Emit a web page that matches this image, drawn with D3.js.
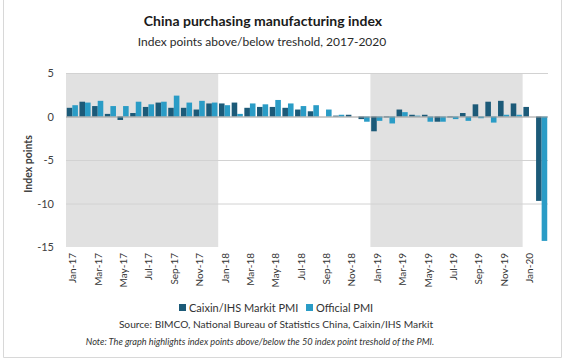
<!DOCTYPE html>
<html><head><meta charset="utf-8">
<script src="https://cdn.jsdelivr.net/npm/d3@7"></script>
<style>body{margin:0;background:#fff}svg{display:block}text{font-family:Lato,"Open Sans",sans-serif}</style>
</head><body><svg id="c" width="565" height="359"></svg>
<script>
const months = ["Jan-17","Feb-17","Mar-17","Apr-17","May-17","Jun-17","Jul-17","Aug-17","Sep-17","Oct-17","Nov-17","Dec-17",
"Jan-18","Feb-18","Mar-18","Apr-18","May-18","Jun-18","Jul-18","Aug-18","Sep-18","Oct-18","Nov-18","Dec-18",
"Jan-19","Feb-19","Mar-19","Apr-19","May-19","Jun-19","Jul-19","Aug-19","Sep-19","Oct-19","Nov-19","Dec-19",
"Jan-20","Feb-20"];
const caixin = [1.0,1.7,1.2,0.3,-0.4,0.4,1.1,1.6,1.0,1.0,0.8,1.5,
1.5,1.6,1.0,1.1,1.1,1.0,0.8,0.6,0.0,0.1,0.2,-0.3,
-1.7,-0.1,0.8,0.2,0.2,-0.6,-0.1,0.4,1.4,1.7,1.8,1.5,
1.1,-9.7];
const official = [1.3,1.6,1.8,1.2,1.2,1.7,1.4,1.7,2.4,1.6,1.8,1.6,
1.3,0.3,1.5,1.4,1.9,1.5,1.2,1.3,0.8,0.2,0.0,-0.6,
-0.5,-0.8,0.5,0.1,-0.6,-0.6,-0.3,-0.5,-0.2,-0.7,0.2,0.2,
0.0,-14.3];
const yTicks = [5,0,-5,-10,-15];
const shaded = [["Jan-17","Dec-17"],["Jan-19","Dec-19"]];
const seriesNames = ["Caixin/IHS Markit PMI","Official PMI"];
const colors = ["#1c5a78","#2a9cc6"];

const svg = d3.select("#c");
const L=66,R=548,T=73,B=247;
const x = d3.scaleBand().domain(months).range([L,R]).paddingInner(0.12).paddingOuter(0.06);
const y = d3.scaleLinear().domain([-15,5]).range([B,T]);
const sub = d3.scaleBand().domain([0,1]).range([0,x.bandwidth()]);

// frame
svg.append("path").attr("d","M3.5,0V357.5H561.5V0").attr("fill","none").attr("stroke","#d8d8d8");

// shaded regions
shaded.forEach(([a,b])=>{
  const x0 = L + months.indexOf(a)*(R-L)/months.length;
  const x1 = L + (months.indexOf(b)+1)*(R-L)/months.length;
  svg.append("rect").attr("x",x0).attr("y",T).attr("width",x1-x0).attr("height",B-T).attr("fill","#e1e1e1");
});
// grid
svg.append("g").selectAll("line").data(yTicks.filter(d=>d!==0&&d!==-15)).join("line")
  .attr("x1",L).attr("x2",R).attr("y1",d=>y(d)+0.5).attr("y2",d=>y(d)+0.5)
  .attr("stroke","#d2d2d2").attr("stroke-width",1);
// y labels
svg.append("g").selectAll("text").data(yTicks).join("text")
  .attr("x",54).attr("y",d=>y(d)+4).attr("text-anchor","end")
  .attr("font-size",11).attr("fill","#404040").text(d=>d);
svg.append("text").attr("transform",`translate(32,${(T+B)/2+4}) rotate(-90)`)
  .attr("text-anchor","middle").attr("font-size",10.5).attr("font-weight","bold").attr("fill","#404040").text("Index points");

// bars
const g = svg.append("g");
[caixin,official].forEach((vals,si)=>{
  g.selectAll(null).data(vals).join("rect")
    .attr("x",(d,i)=>x(months[i])+sub(si))
    .attr("width",sub.bandwidth())
    .attr("y",d=>y(Math.max(0,d)))
    .attr("height",d=>Math.abs(y(d)-y(0)))
    .attr("fill",colors[si]);
});
// zero line
svg.append("line").attr("x1",L).attr("x2",R).attr("y1",y(0)+0.5).attr("y2",y(0)+0.5).attr("stroke","#9a9a9a");

// x labels
svg.append("g").selectAll("text").data(months.filter((d,i)=>i%2===0)).join("text")
  .attr("transform",d=>`translate(${x(d)+x.bandwidth()/2+4},253) rotate(-90)`)
  .attr("text-anchor","end").attr("font-size",10).attr("fill","#333").text(d=>d);

// titles
svg.append("text").attr("x",263).attr("y",26).attr("text-anchor","middle").attr("font-size",14).attr("font-weight","bold").attr("fill","#1a1a1a").text("China purchasing manufacturing index");
svg.append("text").attr("x",262).attr("y",46).attr("text-anchor","middle").attr("font-size",12).attr("fill","#2a2a2a").text("Index points above/below  treshold, 2017-2020");

// legend
const leg = svg.append("g");
const lx=[179,306];
seriesNames.forEach((n,i)=>{
  leg.append("rect").attr("x",lx[i]).attr("y",304).attr("width",7).attr("height",7).attr("fill",colors[i]);
  leg.append("text").attr("x",lx[i]+10).attr("y",311.5).attr("font-size",11).attr("fill","#333").text(n);
});
svg.append("text").attr("x",276).attr("y",328).attr("text-anchor","middle").attr("font-size",10.2).attr("fill","#333").text("Source: BIMCO, National Bureau  of Statistics China, Caixin/IHS  Markit");
svg.append("text").attr("x",260).attr("y",345).attr("text-anchor","middle").attr("font-size",9.2).attr("font-style","italic").attr("fill","#333").text("Note: The graph highlights index points above/below the 50 index point treshold of the PMI.");
</script></body></html>
